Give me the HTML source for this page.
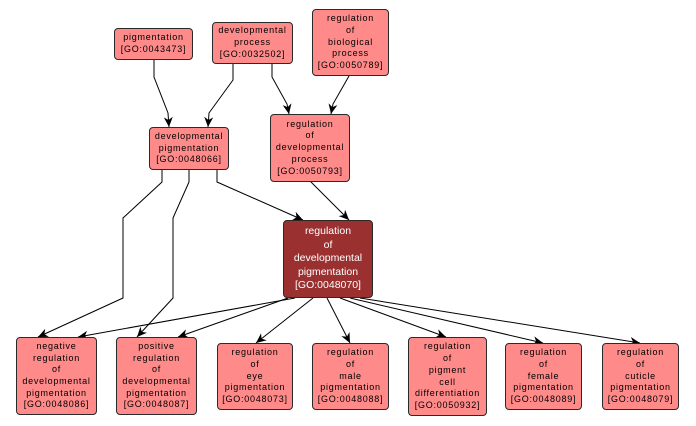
<!DOCTYPE html>
<html><head><meta charset="utf-8"><style>
html,body{margin:0;padding:0;background:#fff;}
body{width:696px;height:426px;position:relative;overflow:hidden;font-family:"Liberation Sans",Arial,sans-serif;}
.b{position:absolute;box-sizing:border-box;border:1px solid #2a2a2a;border-radius:4px;background:#ff8a8a;display:flex;flex-direction:column;justify-content:center;align-items:center;text-align:center;font-size:9px;letter-spacing:0.75px;line-height:11.7px;color:#000;white-space:nowrap;}
.d{background:#9b3030;color:#fff;font-size:10.5px;letter-spacing:0;line-height:13.6px;}
svg{position:absolute;left:0;top:0;}
</style></head><body>
<svg width="696" height="426" viewBox="0 0 696 426">
<defs><marker id="a" markerUnits="userSpaceOnUse" markerWidth="11" markerHeight="9" refX="10" refY="4.5" orient="auto"><path d="M0,0 L10,4.5 L0,9 L3,4.5 z" fill="#000"/></marker></defs>
<g fill="none" stroke="#000" stroke-width="1" marker-end="url(#a)">
<polyline points="154,60 154,77 168,113 169,127"/>
<polyline points="233,64 233,80 209,113 208,127"/>
<polyline points="272,64 272,77 287,104 289,114"/>
<polyline points="349,76 333,104 331,114"/>
<polyline points="217,170 217,182 303,220"/>
<polyline points="310,181 349,220"/>
<polyline points="162,170 162,182 123,218 123,298 38,337"/>
<polyline points="189,170 189,182 173,218 173,298 137,337"/>
<polyline points="295,298 78,337"/>
<polyline points="288,298 178,337"/>
<polyline points="313,298 256,343"/>
<polyline points="327,298 350,343"/>
<polyline points="340,298 446,337"/>
<polyline points="350,298 543,343"/>
<polyline points="360,298 640,343"/>
</g>
</svg>
<div class="b" style="left:114px;top:28px;width:79px;height:32px;"><div>pigmentation</div><div>[GO:0043473]</div></div>
<div class="b" style="left:212px;top:22px;width:81px;height:42px;"><div>developmental</div><div>process</div><div>[GO:0032502]</div></div>
<div class="b" style="left:312px;top:9px;width:77px;height:67px;"><div>regulation</div><div>of</div><div>biological</div><div>process</div><div>[GO:0050789]</div></div>
<div class="b" style="left:149px;top:127px;width:80px;height:43px;"><div>developmental</div><div>pigmentation</div><div>[GO:0048066]</div></div>
<div class="b" style="left:270px;top:114px;width:80px;height:68px;"><div>regulation</div><div>of</div><div>developmental</div><div>process</div><div>[GO:0050793]</div></div>
<div class="b d" style="left:283px;top:220px;width:90px;height:78px;"><div>regulation</div><div>of</div><div>developmental</div><div>pigmentation</div><div>[GO:0048070]</div></div>
<div class="b" style="left:16px;top:337px;width:81px;height:78px;"><div>negative</div><div>regulation</div><div>of</div><div>developmental</div><div>pigmentation</div><div>[GO:0048086]</div></div>
<div class="b" style="left:116px;top:337px;width:81px;height:78px;"><div>positive</div><div>regulation</div><div>of</div><div>developmental</div><div>pigmentation</div><div>[GO:0048087]</div></div>
<div class="b" style="left:217px;top:343px;width:76px;height:67px;"><div>regulation</div><div>of</div><div>eye</div><div>pigmentation</div><div>[GO:0048073]</div></div>
<div class="b" style="left:312px;top:343px;width:77px;height:67px;"><div>regulation</div><div>of</div><div>male</div><div>pigmentation</div><div>[GO:0048088]</div></div>
<div class="b" style="left:408px;top:337px;width:79px;height:79px;"><div>regulation</div><div>of</div><div>pigment</div><div>cell</div><div>differentiation</div><div>[GO:0050932]</div></div>
<div class="b" style="left:505px;top:343px;width:77px;height:67px;"><div>regulation</div><div>of</div><div>female</div><div>pigmentation</div><div>[GO:0048089]</div></div>
<div class="b" style="left:602px;top:343px;width:77px;height:67px;"><div>regulation</div><div>of</div><div>cuticle</div><div>pigmentation</div><div>[GO:0048079]</div></div>
</body></html>
